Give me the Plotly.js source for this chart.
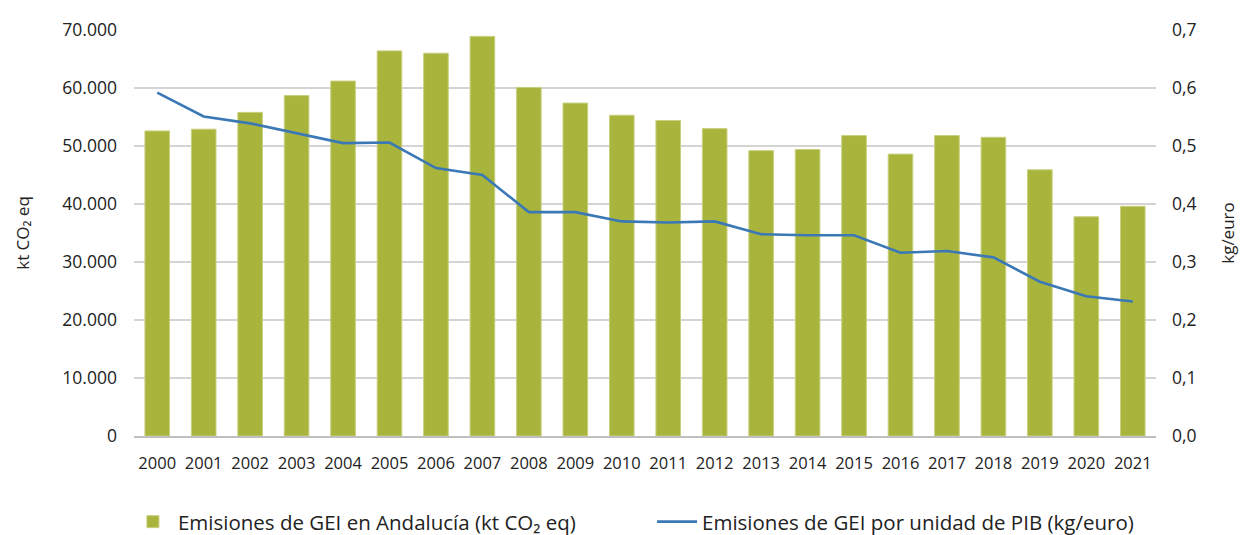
<!DOCTYPE html>
<html>
<head>
<meta charset="utf-8">
<script src="https://cdn.plot.ly/plotly-3.0.1.min.js"></script>
<style>html,body{margin:0;padding:0;background:#fff;}#chart{width:1242px;height:535px;}</style>
</head>
<body>
<div id="chart"></div>
<script>
const years = ["2000","2001","2002","2003","2004","2005","2006","2007","2008","2009","2010","2011","2012","2013","2014","2015","2016","2017","2018","2019","2020","2021"];
const emisiones = [52600,52900,55800,58700,61200,66400,66000,68900,60100,57400,55300,54400,53000,49200,49400,51800,48600,51800,51500,45900,37800,39600];
const intensidad = [0.592,0.551,0.539,0.522,0.505,0.506,0.462,0.450,0.386,0.386,0.370,0.368,0.370,0.348,0.346,0.346,0.316,0.319,0.308,0.266,0.241,0.232];
const leftTicks = [0,10000,20000,30000,40000,50000,60000,70000];
const rightTicks = [0,0.1,0.2,0.3,0.4,0.5,0.6,0.7];

const font = "Open Sans, Noto Sans, sans-serif";
const txt = "#222222";
const traces = [
  {type:"bar", x:years, y:emisiones, name:"Emisiones de GEI en Andalucía (kt CO₂ eq)",
   marker:{color:"#A9B43D", line:{color:"#C9D07F", width:1}}, yaxis:"y", legend:"legend"},
  {type:"scatter", mode:"lines", x:years, y:intensidad, name:"Emisiones de GEI por unidad de PIB (kg/euro)",
   line:{color:"#3A78B6", width:2.6}, yaxis:"y2", legend:"legend2"}
];
const legStyle = {orientation:"h", xref:"container", yref:"container", xanchor:"left", y:0.062, yanchor:"top",
          font:{size:20.5, color:txt, family:font}, itemwidth:40, bgcolor:"rgba(0,0,0,0)"};
const layout = {
  width:1242, height:535,
  margin:{l:134, r:86, t:30, b:99},
  paper_bgcolor:"#fff", plot_bgcolor:"#fff",
  separators:",.",
  font:{family:font, color:txt, size:17},
  bargap:0.47,
  showlegend:true,
  legend:Object.assign({}, legStyle, {x:0.103}),
  legend2:Object.assign({}, legStyle, {x:0.525}),
  xaxis:{type:"category", tickfont:{size:16.5, color:txt}, showgrid:false, zeroline:false,
         showline:true, linecolor:"#BFBFBF", linewidth:1.5, ticks:"", ticklabelstandoff:12},
  yaxis:{range:[0,70000], tickvals:leftTicks, tickformat:",.0f", showgrid:true, gridcolor:"#D4D4D4", gridwidth:1.5,
         zeroline:false, ticks:"", ticklabelstandoff:16, tickfont:{size:17.5, color:txt},
         title:{text:"kt CO₂ eq", font:{size:17, color:txt}, standoff:28}},
  yaxis2:{range:[0,0.7], tickvals:rightTicks, tickformat:".1f", overlaying:"y", side:"right", showgrid:false,
          zeroline:false, ticks:"", ticklabelstandoff:15, tickfont:{size:17.5, color:txt},
          title:{text:"kg/euro", font:{size:17, color:txt}, standoff:26}}
};
Plotly.newPlot("chart", traces, layout, {displayModeBar:false, staticPlot:true});
</script>
</body>
</html>
